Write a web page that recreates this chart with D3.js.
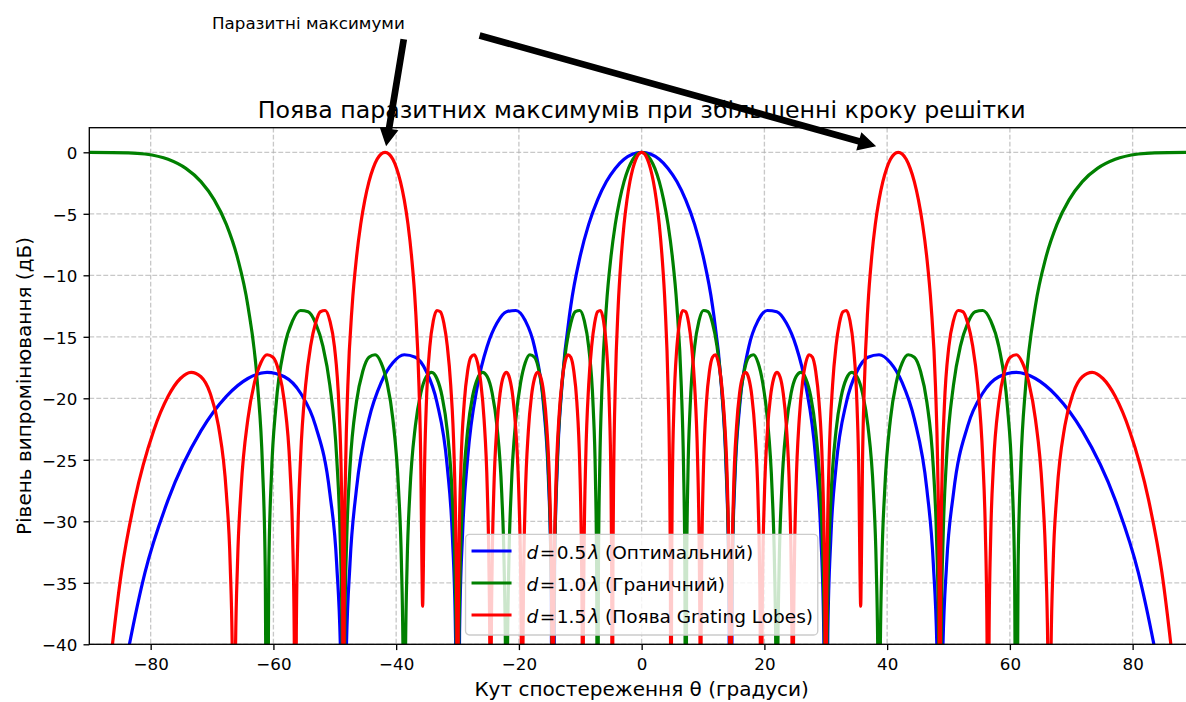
<!DOCTYPE html>
<html>
<head>
<meta charset="utf-8">
<script src="https://cdn.jsdelivr.net/npm/d3@7"></script>
<style>
  body { margin: 0; background: #fff; }
  svg { display: block; font-family: "DejaVu Sans", sans-serif; }
</style>
</head>
<body>
<div id="chart-container"></div>
<script>
const width = 1186;
const height = 702;
const margin = { top: 127.7, left: 89.3, right: -8, bottom: 57.7 };

// element spacing (in wavelengths) and legend names
const spacings = [0.5, 1.0, 1.5];
const seriesNames = ["Оптимальний", "Граничний", "Поява Grating Lobes"];

// array factor, [angle deg, level dB], angle >= 0 (pattern is symmetric)
const pattern05 = [
  [0, 0], [1.43, -0.14], [2.87, -0.57], [4.30, -1.31], [5.74, -2.38], [7.18, -3.87], [8.63, -5.86], [10.08, -8.58], [11.54, -12.48], [13.00, -19.05], [13.74, -25.41], [14.18, -33.59], [14.48, -60],
  [14.77, -33.92], [15.22, -26.23], [15.96, -20.70], [17.46, -15.82], [18.97, -13.68], [20.49, -12.86], [22.02, -12.96], [23.58, -13.88], [25.15, -15.74], [26.74, -18.93], [28.36, -24.90], [29.18, -30.99], [29.67, -39.02], [30.00, -60],
  [30.33, -39.16], [30.83, -31.33], [31.67, -25.58], [33.37, -20.30], [35.10, -17.80], [36.87, -16.66], [38.68, -16.46], [40.54, -17.11], [42.45, -18.72], [44.43, -21.68], [46.48, -27.43], [47.52, -33.42], [48.16, -41.39], [48.59, -60],
  [49.03, -41.44], [49.68, -33.56], [50.81, -27.71], [53.13, -22.24], [55.59, -19.57], [58.21, -18.25], [61.04, -17.89], [64.16, -18.39], [67.67, -19.84], [71.81, -22.65], [77.16, -28.26], [80.93, -34.17], [84.27, -42.1], [90, -60]
];

const pattern10 = [
  [0, 0], [0.72, -0.14], [1.43, -0.57], [2.15, -1.31], [2.87, -2.38], [3.58, -3.87], [4.30, -5.86], [5.02, -8.58], [5.74, -12.48], [6.46, -19.05], [6.82, -25.41], [7.04, -33.59], [7.18, -60],
  [7.33, -33.92], [7.54, -26.23], [7.90, -20.70], [8.63, -15.82], [9.35, -13.68], [10.08, -12.86], [10.81, -12.96], [11.54, -13.88], [12.27, -15.74], [13.00, -18.93], [13.74, -24.90], [14.11, -30.99], [14.33, -39.02], [14.48, -60],
  [14.63, -39.16], [14.85, -31.33], [15.22, -25.58], [15.96, -20.30], [16.71, -17.80], [17.46, -16.66], [18.21, -16.46], [18.97, -17.11], [19.72, -18.72], [20.49, -21.68], [21.25, -27.43], [21.64, -33.42], [21.87, -41.39], [22.02, -60],
  [22.18, -41.44], [22.41, -33.56], [22.80, -27.71], [23.58, -22.24], [24.36, -19.57], [25.15, -18.25], [25.94, -17.89], [26.74, -18.39], [27.55, -19.84], [28.36, -22.65], [29.18, -28.26], [29.59, -34.17], [29.83, -42.1], [30.00, -60],
  [30.17, -42.1], [30.41, -34.17], [30.83, -28.26], [31.67, -22.65], [32.52, -19.84], [33.37, -18.39], [34.23, -17.89], [35.10, -18.25], [35.98, -19.57], [36.87, -22.24], [37.77, -27.71], [38.22, -33.56], [38.49, -41.44], [38.68, -60],
  [38.87, -41.39], [39.14, -33.42], [39.61, -27.43], [40.54, -21.68], [41.49, -18.72], [42.45, -17.11], [43.43, -16.46], [44.43, -16.66], [45.44, -17.80], [46.47, -20.30], [47.52, -25.58], [48.05, -31.33], [48.38, -39.16], [48.59, -60],
  [48.81, -39.02], [49.14, -30.99], [49.68, -24.90], [50.81, -18.93], [51.95, -15.74], [53.13, -13.88], [54.34, -12.96], [55.58, -12.86], [56.87, -13.68], [58.21, -15.82], [59.60, -20.70], [60.32, -26.23], [60.76, -33.92], [61.04, -60],
  [61.34, -33.59], [61.79, -25.41], [62.56, -19.05], [64.16, -12.48], [65.85, -8.58], [67.67, -5.86], [69.64, -3.87], [71.81, -2.38], [74.27, -1.31], [77.16, -0.57], [80.93, -0.14], [83.59, -0.04], [90, 0]
];

const pattern15 = [
  [0, 0], [0.48, -0.14], [0.95, -0.57], [1.43, -1.31], [1.91, -2.38], [2.39, -3.87], [2.87, -5.86], [3.34, -8.58], [3.82, -12.48], [4.30, -19.05], [4.54, -25.41], [4.68, -33.59], [4.78, -60],
  [4.88, -33.92], [5.02, -26.23], [5.26, -20.70], [5.74, -15.82], [6.22, -13.68], [6.70, -12.86], [7.18, -12.96], [7.66, -13.88], [8.14, -15.74], [8.63, -18.93], [9.11, -24.90], [9.35, -30.99], [9.50, -39.02], [9.59, -60],
  [9.69, -39.16], [9.84, -31.33], [10.08, -25.58], [10.56, -20.30], [11.05, -17.80], [11.54, -16.66], [12.02, -16.46], [12.51, -17.11], [13.00, -18.72], [13.49, -21.68], [13.99, -27.43], [14.23, -33.42], [14.38, -41.39], [14.48, -60],
  [14.58, -41.44], [14.73, -33.56], [14.97, -27.71], [15.47, -22.24], [15.96, -19.57], [16.46, -18.25], [16.96, -17.89], [17.46, -18.39], [17.96, -19.84], [18.46, -22.65], [18.97, -28.26], [19.22, -34.17], [19.37, -42.1], [19.47, -60],
  [19.57, -42.1], [19.72, -34.17], [19.98, -28.26], [20.49, -22.65], [21.00, -19.84], [21.51, -18.39], [22.02, -17.89], [22.54, -18.25], [23.06, -19.57], [23.58, -22.24], [24.10, -27.71], [24.36, -33.56], [24.52, -41.44], [24.62, -60],
  [24.73, -41.39], [24.89, -33.42], [25.15, -27.43], [25.68, -21.68], [26.21, -18.72], [26.74, -17.11], [27.28, -16.46], [27.82, -16.66], [28.36, -17.80], [28.90, -20.30], [29.45, -25.58], [29.72, -31.33], [29.89, -39.16], [30.00, -60],
  [30.11, -39.02], [30.28, -30.99], [30.55, -24.90], [31.11, -18.93], [31.67, -15.74], [32.23, -13.88], [32.80, -12.96], [33.37, -12.86], [33.94, -13.68], [34.52, -15.82], [35.10, -20.70], [35.39, -26.23], [35.57, -33.92], [35.69, -36.9],
  [35.80, -33.59], [35.98, -25.41], [36.28, -19.05], [36.87, -12.48], [37.47, -8.58], [38.07, -5.86], [38.68, -3.87], [39.30, -2.38], [39.92, -1.31], [40.54, -0.57], [41.18, -0.14], [41.81, 0],
  [42.45, -0.14], [43.11, -0.57], [43.76, -1.31], [44.43, -2.38], [45.10, -3.87], [45.78, -5.86], [46.47, -8.58], [47.17, -12.48], [47.88, -19.05], [48.23, -25.41], [48.45, -33.59], [48.59, -60],
  [48.73, -33.92], [48.95, -26.23], [49.32, -20.70], [50.05, -15.82], [50.81, -13.68], [51.57, -12.86], [52.35, -12.96], [53.13, -13.88], [53.94, -15.74], [54.75, -18.93], [55.58, -24.90], [56.01, -30.99], [56.27, -39.02], [56.44, -60],
  [56.61, -39.16], [56.87, -31.33], [57.31, -25.58], [58.21, -20.30], [59.13, -17.80], [60.07, -16.66], [61.04, -16.46], [62.05, -17.11], [63.09, -18.72], [64.16, -21.68], [65.28, -27.43], [65.85, -33.42], [66.20, -41.39], [66.44, -60],
  [66.68, -41.44], [67.04, -33.56], [67.67, -27.71], [68.96, -22.24], [70.32, -19.57], [71.81, -18.25], [73.41, -17.89], [75.16, -18.39], [77.16, -19.84], [79.52, -22.65], [82.60, -28.26], [84.77, -34.17], [86.69, -42.1], [90, -60]
];

const xTicks = [-80, -60, -40, -20, 0, 20, 40, 60, 80];
const yTicks = [0, -5, -10, -15, -20, -25, -30, -35, -40];

const titleText = "Поява паразитних максимумів при збільшенні кроку решітки";
const xLabel = "Кут спостереження θ (градуси)";
const yLabel = "Рівень випромінювання (дБ)";

// annotation: text position, empty-text position, arrow targets (data coords)
const annotationText = "Паразитні максимуми";
const annotationAt = [-70, 10];
const annotationBlankAt = [-30, 10];
const gratingPeaks = [[-41.8, 0], [41.8, 0]];

let color = (i) => {
  switch (i) {
    case 0: return "blue";
    case 1: return "green";
    default: return "red";
  }
};

const mirror = half => half.slice(1).reverse().map(([t, v]) => [-t, v]).concat(half);
const series = [pattern05, pattern10, pattern15].map(mirror);

const svg = d3.select("#chart-container").append("svg")
  .attr("width", width)
  .attr("height", height)
  .style("background", "white");

const x = d3.scaleLinear()
  .domain([-90, 90])
  .range([margin.left, width - margin.right]);

const y = d3.scaleLinear()
  .domain([-40, 2])
  .range([height - margin.bottom, margin.top]);

svg.append("clipPath").attr("id", "plot-clip")
  .append("rect")
  .attr("x", x(-90)).attr("y", y(2))
  .attr("width", x(90) - x(-90)).attr("height", y(-40) - y(2));

// grid
let gGrid = svg.append("g")
  .attr("stroke", "#b0b0b0")
  .attr("stroke-opacity", 0.7)
  .attr("stroke-width", 1.33)
  .attr("stroke-dasharray", "4.9,2.1");

gGrid.selectAll(".vgrid")
  .data(xTicks)
  .enter().append("line")
  .attr("class", "vgrid")
  .attr("x1", d => x(d)).attr("x2", d => x(d))
  .attr("y1", y(2)).attr("y2", y(-40));

gGrid.selectAll(".hgrid")
  .data(yTicks)
  .enter().append("line")
  .attr("class", "hgrid")
  .attr("y1", d => y(d)).attr("y2", d => y(d))
  .attr("x1", x(-90)).attr("x2", x(90));

// curves
const line = d3.line()
  .x(d => x(d[0]))
  .y(d => y(d[1]))
  .curve(d3.curveMonotoneX);

let g = svg.append("g").attr("clip-path", "url(#plot-clip)");
g.selectAll(".curve")
  .data(series)
  .enter().append("path")
  .attr("class", "curve")
  .attr("d", line)
  .attr("fill", "none")
  .attr("stroke", (d, i) => color(i))
  .attr("stroke-width", 3.2)
  .attr("stroke-linejoin", "round");

// frame
svg.append("rect")
  .attr("x", x(-90)).attr("y", y(2))
  .attr("width", x(90) - x(-90)).attr("height", y(-40) - y(2))
  .attr("fill", "none")
  .attr("stroke", "black")
  .attr("stroke-width", 1.33);

// axes
let gAxis = svg.append("g");
gAxis.append("g")
  .attr("transform", `translate(0,${y(-40)})`)
  .call(d3.axisBottom(x).tickValues(xTicks).tickSize(5.8).tickPadding(8.2).tickSizeOuter(0))
  .call(g => g.select(".domain").remove());

gAxis.append("g")
  .attr("transform", `translate(${x(-90)},0)`)
  .call(d3.axisLeft(y).tickValues(yTicks).tickSize(5.8).tickPadding(6.2).tickSizeOuter(0))
  .call(g => g.select(".domain").remove())
  .call(g => g.selectAll("text").attr("dy", "0.38em"));

gAxis.selectAll(".tick line").attr("stroke", "black").attr("stroke-width", 1.33);
gAxis.selectAll(".tick text")
  .attr("fill", "black")
  .style("font", "16.7px 'DejaVu Sans'");

svg.append("text")
  .attr("x", (x(-90) + x(90)) / 2)
  .attr("y", 696.3)
  .attr("text-anchor", "middle")
  .style("font-size", "20px")
  .text(xLabel);

svg.append("text")
  .attr("transform", `translate(30.5,${(y(-40) + y(2)) / 2}) rotate(-90)`)
  .attr("text-anchor", "middle")
  .style("font-size", "20px")
  .text(yLabel);

svg.append("text")
  .attr("x", (x(-90) + x(90)) / 2)
  .attr("y", y(2) - 10)
  .attr("text-anchor", "middle")
  .style("font-size", "23.7px")
  .text(titleText);

// legend (lower center)
let gLegend = svg.append("g");
const legendBox = gLegend.append("rect")
  .attr("rx", 4)
  .attr("fill", "white")
  .attr("fill-opacity", 0.8)
  .attr("stroke", "#cccccc")
  .attr("stroke-width", 1.33);

const rows = gLegend.selectAll(".row")
  .data(spacings)
  .enter().append("g")
  .attr("class", "row")
  .attr("transform", (d, i) => `translate(0,${16.7 + i * 32})`);

rows.append("line")
  .attr("x1", 6).attr("x2", 46)
  .attr("stroke", (d, i) => color(i))
  .attr("stroke-width", 3.2);

const labels = rows.append("text")
  .attr("x", 61)
  .attr("y", 8.3)
  .style("font-size", "18.5px");
labels.append("tspan").attr("font-style", "italic").text("d");
labels.append("tspan").attr("dx", 1.5).text("=");
labels.append("tspan").attr("dx", 1.5).text(d => d3.format(".1f")(d));
labels.append("tspan").attr("font-style", "italic").attr("dx", 2).text("λ");
labels.append("tspan").text((d, i) => " (" + seriesNames[i] + ")");

const maxText = d3.max(labels.nodes(), n => n.getComputedTextLength());
const legendW = 61 + maxText + 6.7 + 3;
const legendH = 100.7;
legendBox.attr("width", legendW).attr("height", legendH);
gLegend.attr("transform", `translate(${(x(-90) + x(90)) / 2 - legendW / 2},${y(-40) - 9.3 - legendH})`);

// annotation with arrows
let gAnno = svg.append("g");
const annoText = gAnno.append("text")
  .attr("x", x(annotationAt[0]))
  .attr("y", y(annotationAt[1]))
  .style("font-size", "16.7px")
  .text(annotationText);

let drawArrow = (from, to) => {
  const shrink = 0.05, w = 6.7, hw = 19, hl = 18;
  const dx = to[0] - from[0], dy = to[1] - from[1];
  const len = Math.hypot(dx, dy);
  const ux = dx / len, uy = dy / len, nx = -uy, ny = ux;
  const s = [from[0] + ux * len * shrink, from[1] + uy * len * shrink];
  const e = [to[0] - ux * len * shrink, to[1] - uy * len * shrink];
  const b = [e[0] - ux * hl, e[1] - uy * hl];
  const pts = [
    [s[0] + nx * w / 2, s[1] + ny * w / 2],
    [b[0] + nx * w / 2, b[1] + ny * w / 2],
    [b[0] + nx * hw / 2, b[1] + ny * hw / 2],
    e,
    [b[0] - nx * hw / 2, b[1] - ny * hw / 2],
    [b[0] - nx * w / 2, b[1] - ny * w / 2],
    [s[0] - nx * w / 2, s[1] - ny * w / 2]
  ];
  gAnno.append("path")
    .attr("d", d3.line()(pts) + "Z")
    .attr("fill", "black");
};

// first arrow leaves from the text box corner closest to its target
const bb = annoText.node().getBBox();
const t0 = [x(gratingPeaks[0][0]), y(gratingPeaks[0][1])];
const nearest = (vals, v) => vals.reduce((a, c) => Math.abs(c - v) < Math.abs(a - v) ? c : a);
const start0 = [
  nearest([bb.x, bb.x + bb.width / 2, bb.x + bb.width], t0[0]),
  nearest([bb.y, bb.y + bb.height / 2, bb.y + bb.height], t0[1])
];
drawArrow(start0, t0);
drawArrow([x(annotationBlankAt[0]), y(annotationBlankAt[1])], [x(gratingPeaks[1][0]), y(gratingPeaks[1][1])]);
</script>
</body>
</html>
